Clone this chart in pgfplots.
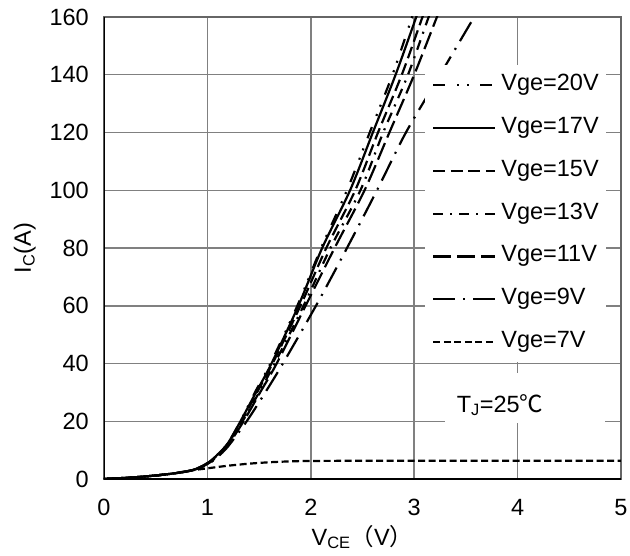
\documentclass[border=0pt]{standalone}
\usepackage{fontspec}
\setmainfont{Liberation Sans}
\newfontfamily\cjk{Noto Sans CJK SC}
\usepackage{pgfplots}
\pgfplotsset{compat=1.18}
\newcommand{\ff}{\fontsize{23.5}{27}\selectfont}
\begin{document}
\begin{tikzpicture}
\begin{axis}[
  scale only axis,
  width=517pt, height=462pt,
  xmin=0, xmax=5, ymin=0, ymax=160,
  xtick={0,1,2,3,4,5}, ytick={0,20,40,60,80,100,120,140,160},
  /pgf/number format/assume math mode=true,
  major tick length=0pt,
  grid=major,
  major grid style={draw=black!50, line width=1.5pt},
  axis line style={draw=black!60, line width=2pt},
  tick label style={font=\ff},
  yticklabel style={anchor=east, inner sep=0pt, xshift=-15pt},
  xticklabel style={anchor=north, inner sep=0pt, yshift=-20pt},
  xlabel={V\textsubscript{CE}{\cjk （}V{\cjk ）}},
  ylabel={I\textsubscript{C}(A)},
  label style={font=\ff},
  xlabel style={at={(axis description cs:0.5,-0.1255)}, anchor=center},
  ylabel style={at={(axis description cs:-0.153,0.5)}, anchor=center},
  every axis plot/.append style={black, line width=2.2pt, smooth},
  legend style={at={(axis cs:3.104,143.4)}, anchor=north west, fill=white, draw=none,
    font=\ff, inner xsep=7pt, inner ysep=10pt, row sep=22.3pt, column sep=5pt,
    nodes={inner sep=0pt, text height=15.5pt, text depth=5pt}},
  legend cell align=left,
  legend image code/.code={\draw[#1] (0pt,0pt) -- (62pt,0pt);},
]
\draw[black, line width=3pt] (rel axis cs:0,1) -- (rel axis cs:0,0) -- (rel axis cs:1,0);
% Vge=20V
\addplot[dash pattern=on 12pt off 12pt on 2pt off 8pt on 2pt off 11pt] coordinates {
(0,0) (0.3,0.6) (0.6,1.6) (0.85,3) (1.0,5.5) (1.1,8.5) (1.2,12.5) (1.32,20) (1.46,30) (1.61,40) (1.87,60) (2.10,80) (2.35,100) (2.57,120) (2.79,140) (2.98,160) (3.03,165)};
\addlegendentry{Vge=20V}
% Vge=17V
\addplot[solid] coordinates {
(0,0) (0.3,0.6) (0.6,1.6) (0.85,3) (1.0,5.5) (1.1,8.5) (1.2,12.5) (1.32,20) (1.47,30) (1.62,40) (1.88,60) (2.11,80) (2.38,100) (2.60,120) (2.82,140) (3.02,160) (3.07,165)};
\addlegendentry{Vge=17V}
% Vge=15V
\addplot[dash pattern=on 12pt off 5.5pt] coordinates {
(0,0) (0.3,0.6) (0.6,1.6) (0.85,3) (1.0,5.4) (1.1,8.4) (1.2,12.3) (1.33,20) (1.48,30) (1.63,40) (1.90,60) (2.15,80) (2.43,100) (2.65,120) (2.88,140) (3.08,160) (3.13,165)};
\addlegendentry{Vge=15V}
% Vge=13V
\addplot[dash pattern=on 10pt off 7pt on 2pt off 7pt] coordinates {
(0,0) (0.3,0.6) (0.6,1.6) (0.85,3) (1.0,5.3) (1.1,8.2) (1.2,12.1) (1.34,20) (1.50,30) (1.65,40) (1.93,60) (2.19,80) (2.48,100) (2.70,120) (2.94,140) (3.14,160) (3.20,165)};
\addlegendentry{Vge=13V}
% Vge=11V
\addplot[dash pattern=on 18pt off 6pt] coordinates {
(0,0) (0.3,0.6) (0.6,1.6) (0.85,3) (1.0,5.2) (1.1,8.0) (1.2,11.8) (1.35,20) (1.51,30) (1.67,40) (1.95,60) (2.23,80) (2.52,100) (2.76,120) (3.00,140) (3.22,160) (3.28,165)};
\addlegendentry{Vge=11V}
% Vge=9V
\addplot[dash pattern=on 22pt off 8pt on 2pt off 8pt] coordinates {
(0,0) (0.3,0.6) (0.6,1.6) (0.85,3) (1.0,5.0) (1.1,7.7) (1.2,11.3) (1.38,20) (1.56,30) (1.73,40) (2.05,60) (2.35,80) (2.64,100) (2.92,120) (3.25,140) (3.58,160) (3.66,165)};
\addlegendentry{Vge=9V}
% Vge=7V
\addplot[dash pattern=on 7pt off 3.5pt] coordinates {
(0,0) (0.3,0.6) (0.6,1.6) (0.85,3) (1.0,3.7) (1.2,4.6) (1.4,5.3) (1.6,5.8) (1.8,6.1) (2.0,6.25) (2.5,6.3) (3.5,6.3) (5,6.3)};
\addlegendentry{Vge=7V}
\fill[white] (axis cs:3.298,19.5) rectangle (axis cs:4.845,36.7);
\node[font=\ff, inner sep=0pt] at (axis cs:3.83,25.6) {T\textsubscript{J}=25{\cjk ℃}};
\end{axis}
\pgfresetboundingbox
\path (-104pt,-76pt) rectangle (526pt,479pt);
\end{tikzpicture}
\end{document}
